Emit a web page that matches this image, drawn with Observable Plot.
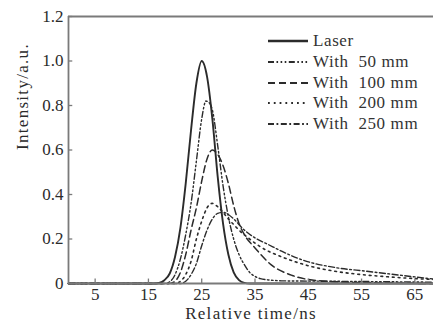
<!DOCTYPE html>
<html>
<head>
<meta charset="utf-8">
<script src="https://cdn.jsdelivr.net/npm/d3@7"></script>
<script src="https://cdn.jsdelivr.net/npm/@observablehq/plot@0.6"></script>
<style>
  body { margin: 0; background: #fff; }
  #wrap { position: relative; width: 433px; height: 329px; overflow: hidden; background: #fff; }
  #legend { position: absolute; left: 268px; top: 31px; font-family: "Liberation Serif", "Times New Roman", serif; font-size: 17px; color: #333; }
  #legend .row { display: flex; align-items: center; height: 20.7px; white-space: pre; letter-spacing: 0.6px; }
  #legend svg { margin-right: 5px; }
  .lbl { letter-spacing: 1.3px; }
</style>
</head>
<body>
<div id="wrap"><div id="legend"></div></div>
<script>
// ---- data ----
const xTicks = [5, 15, 25, 35, 45, 55, 65];
const yTicks = [0, 0.2, 0.4, 0.6, 0.8, 1.0, 1.2];
const seriesNames = ["Laser", "With  50 mm", "With  100 mm", "With  200 mm", "With  250 mm"];

const laserTime = [0, 16, 17, 18, 19, 20, 21, 22, 23, 24, 25, 26, 27, 28, 29, 30, 31, 32, 33, 34, 68.5];
const laserIntensity = [0, 0, 0.003, 0.015, 0.045, 0.12, 0.25, 0.45, 0.69, 0.9, 1.0, 0.93, 0.74, 0.48, 0.27, 0.13, 0.05, 0.015, 0.003, 0, 0];

const mm50Time = [0, 18, 19, 20, 21, 22, 23, 24, 25, 25.8, 26.5, 27, 28, 29, 30, 31, 32, 33, 34, 35, 36, 38, 40, 50, 68.5];
const mm50Intensity = [0, 0, 0.008, 0.04, 0.11, 0.22, 0.36, 0.55, 0.74, 0.82, 0.81, 0.78, 0.62, 0.44, 0.3, 0.2, 0.13, 0.085, 0.05, 0.032, 0.022, 0.015, 0.012, 0.01, 0.006];

const mm100Time = [0, 19, 20, 21, 22, 23, 24, 25, 26, 27, 28, 29, 30, 31, 32, 33, 35, 38, 42, 45, 50, 55, 60, 68.5];
const mm100Intensity = [0, 0, 0.01, 0.05, 0.13, 0.24, 0.34, 0.46, 0.56, 0.6, 0.58, 0.53, 0.45, 0.35, 0.27, 0.22, 0.16, 0.085, 0.036, 0.018, 0.008, 0.004, 0.002, 0];

const mm200Time = [0, 20, 21, 22, 23, 24, 25, 26, 27, 28, 29, 30, 31, 32, 34, 36, 40, 45, 50, 55, 60, 65, 68.5];
const mm200Intensity = [0, 0, 0.01, 0.04, 0.1, 0.2, 0.28, 0.34, 0.36, 0.345, 0.32, 0.29, 0.265, 0.24, 0.2, 0.165, 0.12, 0.08, 0.055, 0.04, 0.03, 0.022, 0.018];

const mm250Time = [0, 21, 22, 23, 24, 25, 26, 27, 28, 29, 30, 31, 33, 35, 37.5, 40, 44, 50, 56, 62, 68.5];
const mm250Intensity = [0, 0, 0.01, 0.04, 0.09, 0.17, 0.24, 0.29, 0.315, 0.32, 0.31, 0.29, 0.24, 0.205, 0.175, 0.145, 0.105, 0.072, 0.055, 0.038, 0.02];

const seriesTimes = [laserTime, mm50Time, mm100Time, mm200Time, mm250Time];
const seriesValues = [laserIntensity, mm50Intensity, mm100Intensity, mm200Intensity, mm250Intensity];

// ---- styles ----
const ink = "#2b2b2b";
const lineStyles = [
  { strokeWidth: 1.9, dash: null },
  { strokeWidth: 1.4, dash: "6,2.5,1.6,2.5,1.6,2.5,1.6,2.5" },
  { strokeWidth: 1.5, dash: "7,4" },
  { strokeWidth: 1.6, dash: "1.8,4" },
  { strokeWidth: 1.4, dash: "6,2.5,1.8,2.5" }
];

const tables = seriesNames.map((name, i) =>
  seriesTimes[i].map((t, j) => ({ series: name, t, v: seriesValues[i][j] }))
);

const lineMarks = tables.map((rows, i) =>
  Plot.line(rows, {
    x: "t", y: "v", stroke: ink, strokeWidth: lineStyles[i].strokeWidth,
    strokeDasharray: lineStyles[i].dash || undefined, curve: "monotone-x"
  })
);

const frameColor = "#7a7a7a";
const chart = Plot.plot({
  width: 433, height: 329,
  marginLeft: 68, marginRight: 0, marginTop: 16, marginBottom: 46,
  style: { fontFamily: "'Liberation Serif', 'Times New Roman', serif", fontSize: "17px", color: ink, background: "#fff" },
  x: { domain: [0, 68.5] },
  y: { domain: [0, 1.2] },
  marks: [
    ...lineMarks,
    Plot.ruleX(xTicks, { y1: 0, y2: 0.02, stroke: frameColor, strokeWidth: 1.3 }),
    Plot.ruleY(yTicks, { x1: 0, x2: 0.8, stroke: frameColor, strokeWidth: 1.3 }),
    Plot.ruleX([0], { stroke: frameColor, strokeWidth: 1.8 }),
    Plot.ruleY([0], { stroke: frameColor, strokeWidth: 1.8 }),
    Plot.ruleY([1.2], { stroke: frameColor, strokeWidth: 1.8 }),
    Plot.axisX({ ticks: xTicks, tickSize: 0, tickPadding: 4, label: null, fill: ink }),
    Plot.axisY({ ticks: yTicks, tickSize: 0, tickPadding: 5, label: null, fill: ink,
      tickFormat: d => d === 0 ? "0" : d.toFixed(1) }),
    Plot.text(["Relative time/ns"], { frameAnchor: "bottom", dy: 35, fill: ink, fontSize: 17 }),
    Plot.text(["Intensity/a.u."], { frameAnchor: "left", dx: -46, rotate: -90, fill: ink, fontSize: 17 })
  ]
});
document.getElementById("wrap").prepend(chart);

// letter spacing for the axis titles
d3.select(chart).selectAll("text").filter(function () {
  const s = this.textContent; return s === "Relative time/ns" || s === "Intensity/a.u.";
}).classed("lbl", true);

// legend
const legend = d3.select("#legend");
seriesNames.forEach((name, i) => {
  const row = legend.append("div").attr("class", "row");
  const sv = row.append("svg").attr("width", 40).attr("height", 10);
  sv.append("line").attr("x1", 0).attr("x2", 40).attr("y1", 5).attr("y2", 5)
    .attr("stroke", ink).attr("stroke-width", lineStyles[i].strokeWidth + 0.5)
    .attr("stroke-dasharray", lineStyles[i].dash);
  row.append("span").text(name);
});
</script>
</body>
</html>
